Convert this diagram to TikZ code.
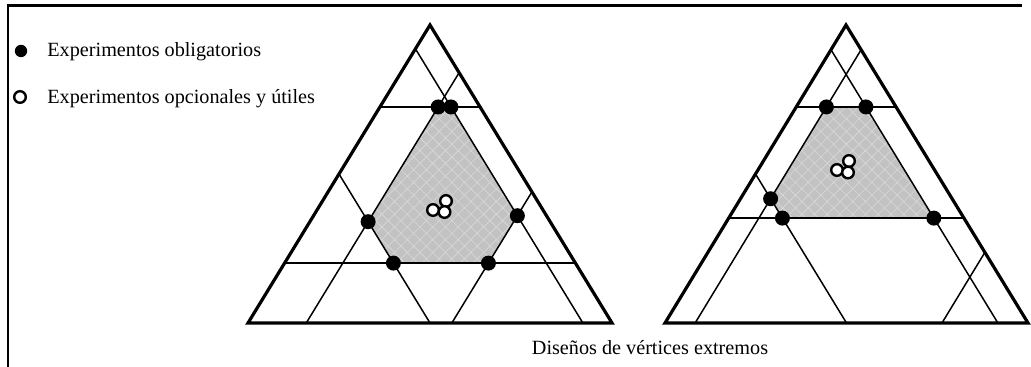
\documentclass[tikz,border=0pt]{standalone}
\usepackage{fontspec}
\setmainfont{Liberation Serif}
\usetikzlibrary{calc, patterns.meta}

\begin{document}
\begin{tikzpicture}[
        x=0.5pt, y=-0.5pt,
        frameline/.style={line width=1.3pt},
        sideline/.style={line width=1.6pt, line join=miter},
        gridline/.style={line width=0.75pt},
        region/.style={fill=black!24,
                       postaction={pattern={Hatch[angle=45, distance=4.5pt, line width=0.3pt]}, pattern color=black!15}},
        vertexdot/.style={circle, fill=black, inner sep=0pt, minimum size=7.5pt},
        centerdot/.style={circle, draw=black, fill=white, line width=1.2pt, inner sep=0pt, minimum size=5.8pt},
        label/.style={inner sep=0pt, font=\fontsize{10.1}{12}\selectfont},
    ]
        \useasboundingbox (0,0) rectangle (1031,367);
        \draw[frameline] (8,367) -- (8,5.5) -- (1022,5.5);

        \node[vertexdot, minimum size=6.2pt] (keyfull) at (21,51) {};
        \node[label, anchor=base west] (keyfulltext) at (47,57) {Experimentos obligatorios};
        \node[centerdot] (keyopen) at (20,97) {};
        \node[label, anchor=base west] (keyopentext) at (47,104) {Experimentos opcionales y útiles};

        \coordinate (la) at (430,25);
        \coordinate (lb) at (248,323);
        \coordinate (lc) at (612,323);
        \coordinate (ra) at (846,25);
        \coordinate (rb) at (665,323);
        \coordinate (rc) at (1028,323);

        \coordinate (l1) at (barycentric cs:la=0.725,lb=0.115,lc=0.16);
        \coordinate (l2) at (barycentric cs:la=0.725,lb=0.08,lc=0.195);
        \coordinate (l3) at (barycentric cs:la=0.36,lb=0.08,lc=0.56);
        \coordinate (l4) at (barycentric cs:la=0.201,lb=0.239,lc=0.56);
        \coordinate (l5) at (barycentric cs:la=0.201,lb=0.5,lc=0.299);
        \coordinate (l6) at (barycentric cs:la=0.34,lb=0.5,lc=0.16);
        \coordinate (r1) at (barycentric cs:ra=0.725,rb=0.192,rc=0.083);
        \coordinate (r2) at (barycentric cs:ra=0.725,rb=0.083,rc=0.192);
        \coordinate (r3) at (barycentric cs:ra=0.352,rb=0.083,rc=0.565);
        \coordinate (r4) at (barycentric cs:ra=0.352,rb=0.5,rc=0.148);
        \coordinate (r5) at (barycentric cs:ra=0.417,rb=0.5,rc=0.083);

        \path[region] (l1) -- (l2) -- (l3) -- (l4) -- (l5) -- (l6) -- cycle;
        \path[region] (r1) -- (r2) -- (r3) -- (r4) -- (r5) -- cycle;

        \foreach \t/\p/\q/\v in {0.725/lb/lc/la, 0.201/lb/lc/la, 0.08/la/lc/lb, 0.5/la/lc/lb, 0.16/la/lb/lc, 0.56/la/lb/lc,
                                 0.725/rb/rc/ra, 0.352/rb/rc/ra, 0.083/ra/rc/rb, 0.5/ra/rc/rb, 0.083/ra/rb/rc, 0.763/ra/rb/rc}
            \draw[gridline] ($(\p)!\t!(\v)$) -- ($(\q)!\t!(\v)$);

        \draw[sideline] (la) -- (lb) -- (lc) -- cycle;
        \draw[sideline] (ra) -- (rb) -- (rc) -- cycle;

        \foreach \n in {l1,l2,l3,l4,l5,l6,r1,r2,r3,r4,r5}
            \node[vertexdot] (dot-\n) at (\n) {};

        \node[centerdot] (lo1) at (446,201) {};
        \node[centerdot] (lo2) at (433,210) {};
        \node[centerdot] (lo3) at (444.5,212) {};
        \node[centerdot] (ro1) at (849,161) {};
        \node[centerdot] (ro2) at (837,170) {};
        \node[centerdot] (ro3) at (848,172.5) {};

        \node[label, anchor=base] (caption) at (650,355) {Diseños de vértices extremos};
    \end{tikzpicture}
\end{document}
